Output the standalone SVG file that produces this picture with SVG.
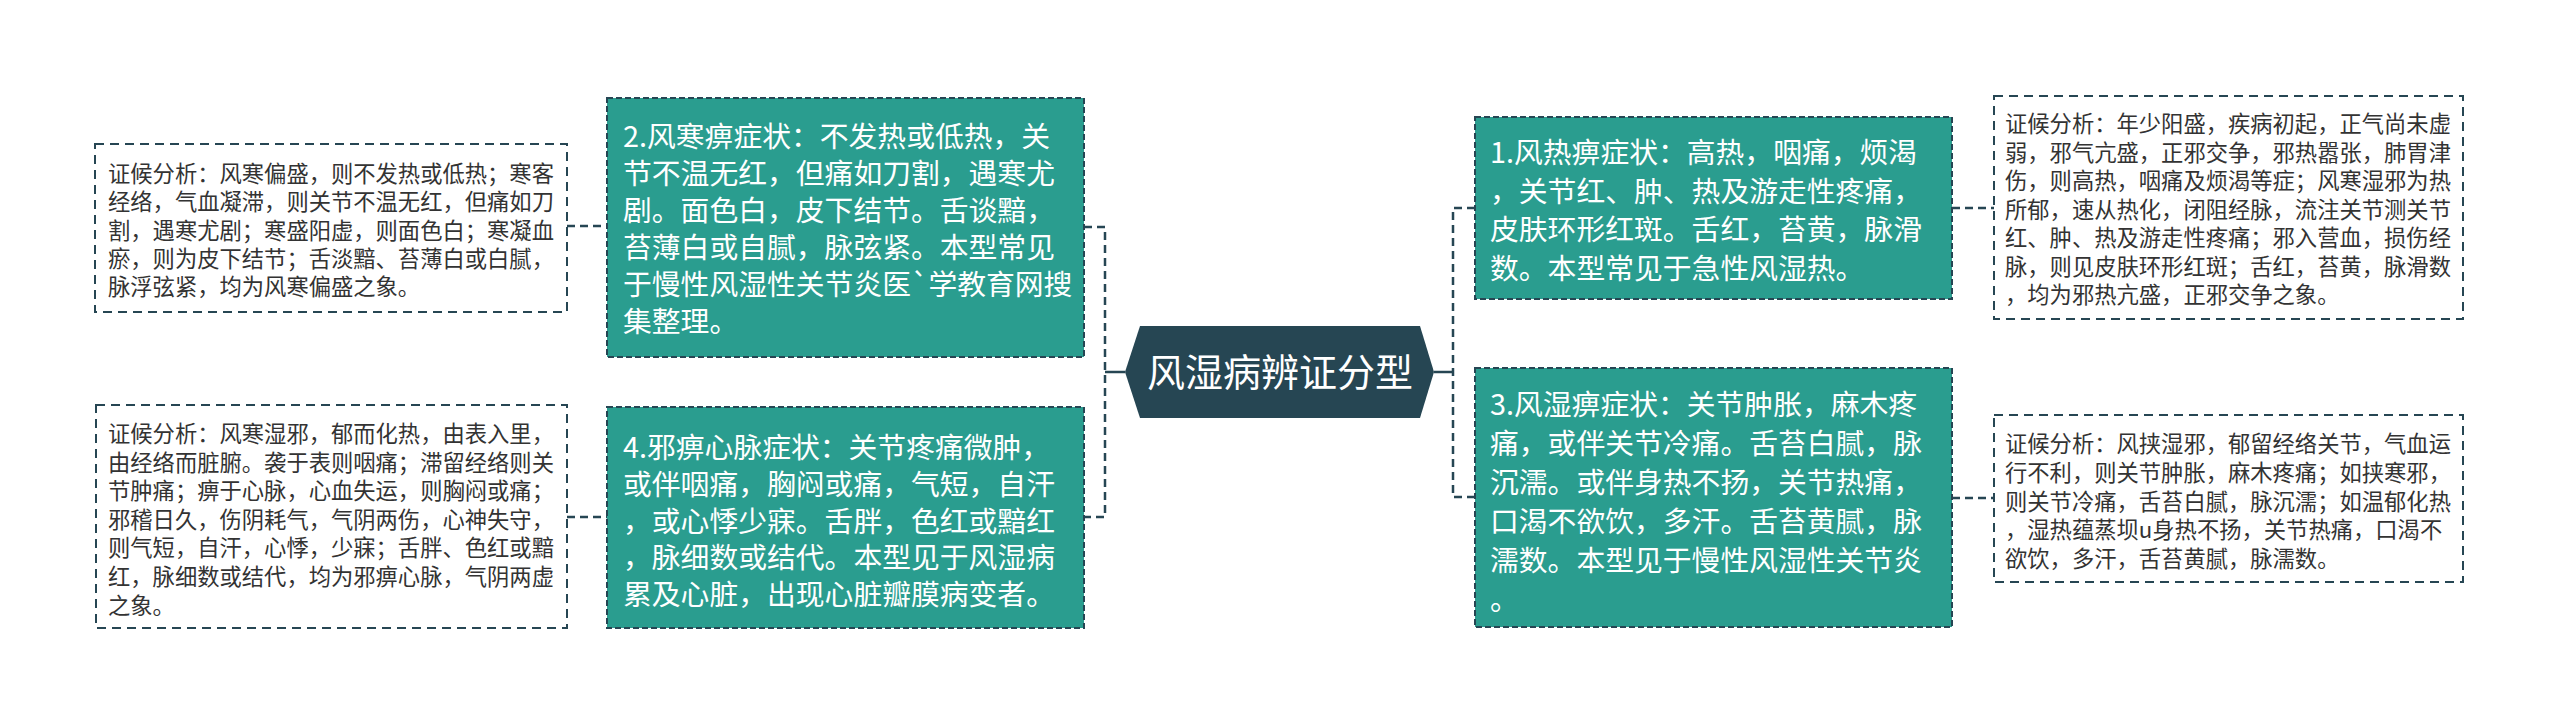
<svg xmlns="http://www.w3.org/2000/svg" width="2560" height="725" viewBox="0 0 2560 725">
<style>
.note{fill:#ffffff;stroke:#264653;stroke-width:2;stroke-dasharray:9 6}
.box{fill:#2a9d8f;stroke:#264653;stroke-width:2;stroke-dasharray:6 3}
.nt{font-family:"Noto Sans CJK SC","Noto Sans",sans-serif;font-size:22.3px;fill:#333333}
.bt{font-family:"Noto Sans CJK SC","Noto Sans",sans-serif;font-size:28.8px;fill:#ffffff}
.ct{font-family:"Noto Sans CJK SC","Noto Sans",sans-serif;font-size:38px;fill:#ffffff}
.dl{fill:none;stroke:#264653;stroke-width:2.5;stroke-dasharray:8 5}
.sl{fill:none;stroke:#264653;stroke-width:2.5}
</style>
<rect width="2560" height="725" fill="#ffffff"/>
<g id="connectors">
<path class="dl" d="M567 226 H607"/>
<path class="dl" d="M567 517 H607"/>
<path class="dl" d="M1084 227 H1105 V517 H1084"/>
<path class="sl" d="M1105 372 H1125"/>
<path class="dl" d="M1475 208 H1453 V497 H1475"/>
<path class="sl" d="M1434 372 H1453"/>
<path class="dl" d="M1952 208 H1994"/>
<path class="dl" d="M1952 498 H1994"/>
</g>
<g id="center">
<polygon points="1125,372 1140,326 1420,326 1434,372 1420,418 1140,418" fill="#264653"/>
<text class="ct" x="1280" y="386" text-anchor="middle">风湿病辨证分型</text>
</g>
<g id="node2">
<rect class="box" x="607" y="98" width="477" height="259"/>
<text class="bt"><tspan x="623" y="147">2.风寒痹症状：不发热或低热，关</tspan><tspan x="623" y="184">节不温无红，但痛如刀割，遇寒尤</tspan><tspan x="623" y="221">剧。面色白，皮下结节。舌谈黯，</tspan><tspan x="623" y="258">苔薄白或自腻，脉弦紧。本型常见</tspan><tspan x="623" y="295">于慢性风湿性关节炎医`学教育网搜</tspan><tspan x="623" y="332">集整理。</tspan></text>
</g>
<g id="note2">
<rect class="note" x="95" y="144" width="472" height="168"/>
<text class="nt"><tspan x="108" y="182">证候分析：风寒偏盛，则不发热或低热；寒客</tspan><tspan x="108" y="210.3">经络，气血凝滞，则关节不温无红，但痛如刀</tspan><tspan x="108" y="238.6">割，遇寒尤剧；寒盛阳虚，则面色白；寒凝血</tspan><tspan x="108" y="267">瘀，则为皮下结节；舌淡黯、苔薄白或白腻，</tspan><tspan x="108" y="295.3">脉浮弦紧，均为风寒偏盛之象。</tspan></text>
</g>
<g id="node4">
<rect class="box" x="607" y="407" width="477" height="221"/>
<text class="bt"><tspan x="623" y="458">4.邪痹心脉症状：关节疼痛微肿，</tspan><tspan x="623" y="494.8">或伴咽痛，胸闷或痛，气短，自汗</tspan><tspan x="623" y="531.6">，或心悸少寐。舌胖，色红或黯红</tspan><tspan x="623" y="568.4">，脉细数或结代。本型见于风湿病</tspan><tspan x="623" y="605.2">累及心脏，出现心脏瓣膜病变者。</tspan></text>
</g>
<g id="note4">
<rect class="note" x="96" y="405" width="471" height="223"/>
<text class="nt"><tspan x="108" y="442">证候分析：风寒湿邪，郁而化热，由表入里，</tspan><tspan x="108" y="470.6">由经络而脏腑。袭于表则咽痛；滞留经络则关</tspan><tspan x="108" y="499.2">节肿痛；痹于心脉，心血失运，则胸闷或痛；</tspan><tspan x="108" y="527.8">邪稽日久，伤阴耗气，气阴两伤，心神失守，</tspan><tspan x="108" y="556.4">则气短，自汗，心悸，少寐；舌胖、色红或黯</tspan><tspan x="108" y="585">红，脉细数或结代，均为邪痹心脉，气阴两虚</tspan><tspan x="108" y="613.6">之象。</tspan></text>
</g>
<g id="node1">
<rect class="box" x="1475" y="117" width="477" height="182"/>
<text class="bt"><tspan x="1490" y="163">1.风热痹症状：高热，咽痛，烦渴</tspan><tspan x="1490" y="201.7">，关节红、肿、热及游走性疼痛，</tspan><tspan x="1490" y="240.4">皮肤环形红斑。舌红，苔黄，脉滑</tspan><tspan x="1490" y="279.1">数。本型常见于急性风湿热。</tspan></text>
</g>
<g id="note1">
<rect class="note" x="1994" y="96" width="469" height="223"/>
<text class="nt"><tspan x="2005" y="132">证候分析：年少阳盛，疾病初起，正气尚未虚</tspan><tspan x="2005" y="160.5">弱，邪气亢盛，正邪交争，邪热嚣张，肺胃津</tspan><tspan x="2005" y="189">伤，则高热，咽痛及烦渴等症；风寒湿邪为热</tspan><tspan x="2005" y="217.5">所郁，速从热化，闭阻经脉，流注关节测关节</tspan><tspan x="2005" y="246">红、肿、热及游走性疼痛；邪入营血，损伤经</tspan><tspan x="2005" y="274.5">脉，则见皮肤环形红斑；舌红，苔黄，脉滑数</tspan><tspan x="2005" y="303">，均为邪热亢盛，正邪交争之象。</tspan></text>
</g>
<g id="node3">
<rect class="box" x="1475" y="368" width="477" height="259"/>
<text class="bt"><tspan x="1490" y="415">3.风湿痹症状：关节肿胀，麻木疼</tspan><tspan x="1490" y="454">痛，或伴关节冷痛。舌苔白腻，脉</tspan><tspan x="1490" y="493">沉濡。或伴身热不扬，关节热痛，</tspan><tspan x="1490" y="532">口渴不欲饮，多汗。舌苔黄腻，脉</tspan><tspan x="1490" y="571">濡数。本型见于慢性风湿性关节炎</tspan><tspan x="1490" y="610">。</tspan></text>
</g>
<g id="note3">
<rect class="note" x="1994" y="415" width="469" height="167"/>
<text class="nt"><tspan x="2005" y="452">证候分析：风挟湿邪，郁留经络关节，气血运</tspan><tspan x="2005" y="480.8">行不利，则关节肿胀，麻木疼痛；如挟寒邪，</tspan><tspan x="2005" y="509.5">则关节冷痛，舌苔白腻，脉沉濡；如温郁化热</tspan><tspan x="2005" y="538.3">，湿热蕴蒸坝u身热不扬，关节热痛，口渴不</tspan><tspan x="2005" y="567">欲饮，多汗，舌苔黄腻，脉濡数。</tspan></text>
</g>
</svg>
